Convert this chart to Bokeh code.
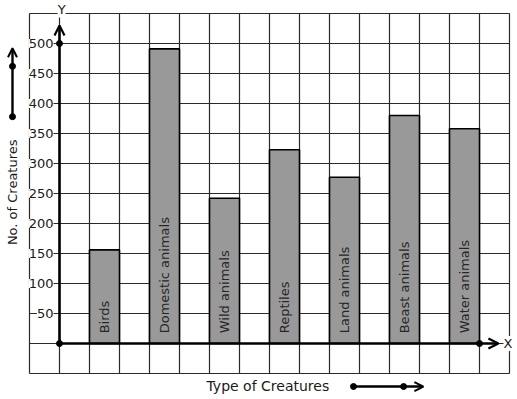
import math
from bokeh.plotting import figure
from bokeh.models import Range1d, Arrow, OpenHead
from bokeh.core.properties import value
from bokeh.embed import file_html
from bokeh.resources import INLINE

# ---- data ----
categories = ["Birds", "Domestic animals", "Wild animals", "Reptiles",
              "Land animals", "Beast animals", "Water animals"]
counts = [156, 491, 242, 323, 277, 380, 358]
y_ticks = [50, 100, 150, 200, 250, 300, 350, 400, 450, 500]
y_tick_labels = ["50", "100", "150", "200", "250", "300", "350", "400", "450", "500"]
x_title = "Type of Creatures"
y_title = "No. of Creatures"

# ---- layout ----
W, H = 517, 399
FONT = "DejaVu Sans"
INK = "#1a1a1a"
OX, OY = 59, 343  # pixel position of the origin

# 1 x-unit = one grid cell (30 px); 50 y-units = one grid cell (30 px)
p = figure(width=W, height=H,
           x_range=Range1d(-OX / 30, (W - OX) / 30),
           y_range=Range1d((OY - H) / 0.6, OY / 0.6),
           x_axis_type=None, y_axis_type=None,
           toolbar_location=None, output_backend="svg",
           min_border=0, outline_line_color=None,
           background_fill_color="white", border_fill_color="white")

# grid of cells
gx = list(range(-1, 16))
gy = list(range(-50, 551, 50))
p.segment(x0=gx, y0=[-50] * len(gx), x1=gx, y1=[550] * len(gx),
          line_color="#2a2a2a", line_width=1.2)
p.segment(x0=[-1] * len(gy), y0=gy, x1=[15] * len(gy), y1=gy,
          line_color="#2a2a2a", line_width=1.2)

# bars
bar_x = [2 * i + 1.5 for i in range(len(categories))]
p.vbar(x=bar_x, width=1, top=counts, bottom=0,
       fill_color="#999999", line_color="black", line_width=1.6)

# labels inside bars
p.text(x=bar_x, y=[17] * len(categories), text=categories, angle=math.pi / 2,
       text_align="left", text_baseline="middle",
       text_font=value(FONT), text_font_size="13px", text_color="#262626")

# axes with arrows
p.add_layout(Arrow(x_start=0, y_start=0, x_end=0, y_end=530,
                   line_width=2.6, line_color="black",
                   end=OpenHead(size=10, line_width=2.2, line_color="black")))
p.add_layout(Arrow(x_start=0, y_start=0, x_end=14.63, y_end=0,
                   line_width=2.6, line_color="black",
                   end=OpenHead(size=10, line_width=2.2, line_color="black")))
p.scatter(x=[0, 0, 14], y=[0, 500, 0], size=6, color="black")

# y tick labels
p.text(x=[-0.2] * len(y_ticks), y=y_ticks, text=y_tick_labels,
       text_align="right", text_baseline="middle",
       text_font=value(FONT), text_font_size="13px", text_color=INK,
       background_fill_color="white")

# axis letters
p.text(x=[0.07], y=[556], text=["Y"], text_align="center", text_baseline="middle",
       text_font=value(FONT), text_font_size="13px", text_color=INK,
       background_fill_color="white")
p.text(x=[14.8], y=[0], text=["X"], text_align="left", text_baseline="middle",
       text_font=value(FONT), text_font_size="13px", text_color=INK,
       background_fill_color="white")

# y title with arrow
p.text(x=[-1.567], y=[252], text=[y_title], angle=math.pi / 2,
       text_align="center", text_baseline="middle",
       text_font=value(FONT), text_font_size="13px", text_color=INK)
p.add_layout(Arrow(x_start=-1.567, y_start=378, x_end=-1.567, y_end=492,
                   line_width=2.4, line_color="black",
                   end=OpenHead(size=9, line_width=2, line_color="black")))
p.scatter(x=[-1.567, -1.567], y=[378, 462], size=6, color="black")

# x title with arrow
p.text(x=[4.9], y=[-70], text=[x_title], text_align="left", text_baseline="middle",
       text_font=value(FONT), text_font_size="14px", text_color=INK)
p.add_layout(Arrow(x_start=9.8, y_start=-71.7, x_end=12.13, y_end=-71.7,
                   line_width=2.4, line_color="black",
                   end=OpenHead(size=9, line_width=2, line_color="black")))
p.scatter(x=[9.8, 11.47], y=[-71.7, -71.7], size=6, color="black")

open("out.html", "w").write(file_html(p, INLINE))
